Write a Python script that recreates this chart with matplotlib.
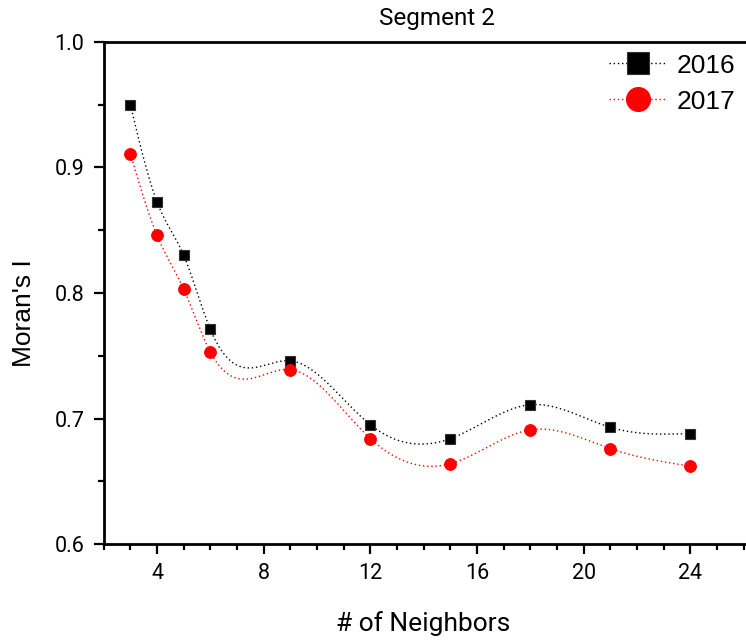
import numpy as np
import matplotlib
matplotlib.use('Agg')
import matplotlib.pyplot as plt
from matplotlib.ticker import MultipleLocator

####################################################################################
### Data
####################################################################################
neighbors = [3, 4, 5, 6, 9, 12, 15, 18, 21, 24]
moran_2016 = [0.950, 0.8725, 0.830, 0.771, 0.746, 0.695, 0.684, 0.711, 0.693, 0.688]
moran_2017 = [0.911, 0.846, 0.803, 0.753, 0.739, 0.684, 0.664, 0.691, 0.676, 0.662]


def natural_spline(x, y, n=400):
	# natural cubic spline through the points (Origin "spline" connect)
	x = np.asarray(x, float)
	y = np.asarray(y, float)
	k = len(x)
	h = np.diff(x)
	A = np.zeros((k, k))
	b = np.zeros(k)
	A[0, 0] = 1
	A[-1, -1] = 1
	for i in range(1, k - 1):
		A[i, i - 1] = h[i - 1]
		A[i, i] = 2 * (h[i - 1] + h[i])
		A[i, i + 1] = h[i]
		b[i] = 6 * ((y[i + 1] - y[i]) / h[i] - (y[i] - y[i - 1]) / h[i - 1])
	M = np.linalg.solve(A, b)
	xs = np.linspace(x[0], x[-1], n)
	idx = np.clip(np.searchsorted(x, xs) - 1, 0, k - 2)
	x0, x1 = x[idx], x[idx + 1]
	hh = x1 - x0
	ys = (M[idx] * (x1 - xs)**3 / (6 * hh) + M[idx + 1] * (xs - x0)**3 / (6 * hh)
		+ (y[idx] / hh - M[idx] * hh / 6) * (x1 - xs)
		+ (y[idx + 1] / hh - M[idx + 1] * hh / 6) * (xs - x0))
	return xs, ys


####################################################################################
### Figure
####################################################################################
fig = plt.figure(figsize=(7.46, 6.42), dpi=100)
fig.patch.set_facecolor('white')
ax = fig.add_axes([0.139, 0.1526, 0.8937, 0.782])

for ys, col, mk, ms, lab in [(moran_2016, 'black', 's', 7.9, '2016'),
							 (moran_2017, 'red', 'o', 8.4, '2017')]:
	xs, yy = natural_spline(neighbors, ys)
	ec = col if col == 'red' else '#333333'
	ax.plot(xs, yy, color=col, lw=1.0, ls=(0, (1, 2)))
	ax.plot(neighbors, ys, ls='none', marker=mk, ms=ms, mfc=col, mec=ec, mew=0.8)
	# legend proxy
	ax.plot([], [], color=col, lw=1.0, ls=(0, (1, 2)), marker=mk, ms=ms, mfc=col,
		mec=ec, mew=0.8, label=lab)

ax.set_xlim(2, 27)
ax.set_ylim(0.6, 1.0)
ax.xaxis.set_minor_locator(MultipleLocator(1))
ax.yaxis.set_minor_locator(MultipleLocator(0.05))
ax.set_xticks([4, 8, 12, 16, 20, 24])
ax.set_yticks([0.6, 0.7, 0.8, 0.9, 1.0])
ax.set_yticklabels(['0.6', '0.7', '0.8', '0.9', '1.0'])

ax.spines['right'].set_visible(False)
for s in ['left', 'bottom', 'top']:
	ax.spines[s].set_linewidth(2.0)
ax.tick_params(axis='both', which='major', direction='out', width=1.6, length=7, pad=7, top=False, right=False)
ax.tick_params(axis='both', which='minor', direction='out', width=1.6, length=4, top=False, right=False)
for lbl in ax.get_xticklabels() + ax.get_yticklabels():
	lbl.set_fontfamily(['Roboto', 'DejaVu Sans'])
	lbl.set_fontsize(15.5)

ax.set_title('Segment 2', fontfamily=['Roboto', 'DejaVu Sans'], fontsize=17.5, pad=12)
ax.set_xlabel('# of Neighbors', fontfamily=['Roboto', 'DejaVu Sans'], fontsize=19)
ax.xaxis.set_label_coords(0.479, -0.133)
ax.set_ylabel("Moran's I", fontfamily=['Liberation Sans', 'DejaVu Sans'], fontsize=19)
ax.yaxis.set_label_coords(-0.101, 0.46)

leg = ax.legend(loc='upper left', bbox_to_anchor=(0.799, 0.937), bbox_transform=fig.transFigure,
	frameon=False, prop={'family': ['Liberation Sans', 'DejaVu Sans'], 'size': 19},
	markerscale=2.05, handlelength=2.2, handletextpad=0.37, labelspacing=0.45, borderpad=0)

fig.savefig('out.png', dpi=100)
